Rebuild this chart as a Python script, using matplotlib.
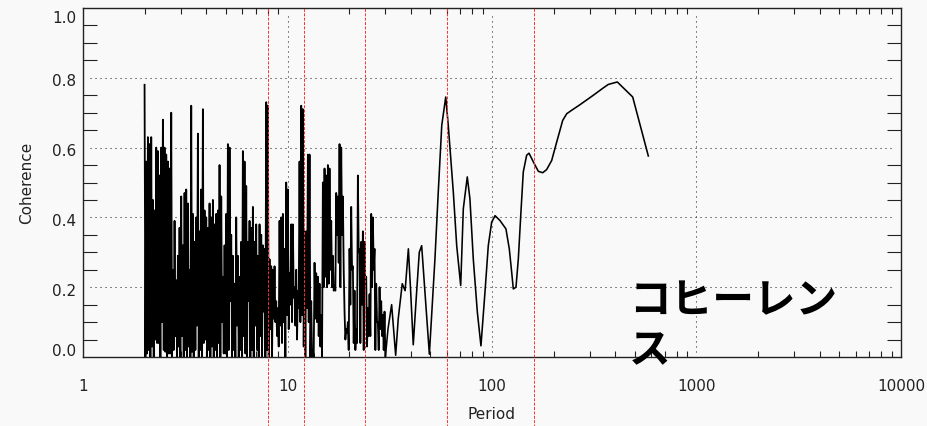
import numpy as np
import matplotlib
matplotlib.use("Agg")
import matplotlib.pyplot as plt
from matplotlib.ticker import FixedLocator, NullFormatter
from matplotlib.transforms import ScaledTranslation

plt.rcParams["path.simplify"] = False

# ---------------- data ----------------
# dense (noisy) part of the coherence spectrum, periods 2 .. 30
dense_values = [
    0.78, 0.00, 0.56, 0.01, 0.63, 0.02, 0.61, 0.00, 0.63, 0.03,
    0.45, 0.00, 0.42, 0.05, 0.60, 0.04, 0.59, 0.04, 0.52, 0.00,
    0.60, 0.10, 0.68, 0.02, 0.60, 0.015, 0.58, 0.00, 0.56, 0.01,
    0.54, 0.01, 0.70, 0.00, 0.25, 0.02, 0.39, 0.06, 0.22, 0.00,
    0.29, 0.03, 0.37, 0.00, 0.46, 0.06, 0.32, 0.00, 0.47, 0.02,
    0.48, 0.00, 0.44, 0.03, 0.25, 0.00, 0.72, 0.015, 0.41, 0.00,
    0.33, 0.02, 0.40, 0.09, 0.64, 0.00, 0.36, 0.02, 0.48, 0.00,
    0.71, 0.04, 0.42, 0.05, 0.40, 0.00, 0.37, 0.02,
    # periods ~4 .. 8.5
    0.44, 0.00, 0.40, 0.03, 0.45, 0.00, 0.38, 0.02, 0.41, 0.00,
    0.42, 0.04, 0.55, 0.00, 0.46, 0.10, 0.23, 0.01, 0.32, 0.01,
    0.41, 0.00, 0.61, 0.02, 0.60, 0.16, 0.35, 0.00, 0.29, 0.02,
    0.21, 0.00, 0.40, 0.09, 0.29, 0.00, 0.23, 0.02, 0.33, 0.00,
    0.59, 0.06, 0.56, 0.01, 0.49, 0.00, 0.33, 0.16, 0.39, 0.00,
    0.37, 0.02, 0.43, 0.00, 0.33, 0.09, 0.38, 0.02, 0.29, 0.00,
    0.38, 0.06, 0.35, 0.00, 0.32, 0.13, 0.31, 0.00, 0.73, 0.02,
    0.72, 0.00, 0.28, 0.08, 0.26, 0.00, 0.25, 0.11,
    # periods ~8.5 .. 18.5
    0.26, 0.10, 0.16, 0.06, 0.14, 0.03, 0.39, 0.09, 0.40, 0.04,
    0.41, 0.10, 0.31, 0.00, 0.50, 0.12, 0.48, 0.08, 0.24, 0.15,
    0.38, 0.10, 0.38, 0.17, 0.20, 0.09, 0.25, 0.05, 0.19, 0.14,
    0.56, 0.10, 0.72, 0.12, 0.71, 0.03, 0.36, 0.00, 0.36, 0.14,
    0.58, 0.10, 0.58, 0.00, 0.16, 0.00, 0.02, 0.00, 0.27, 0.11,
    0.24, 0.10, 0.23, 0.06, 0.21, 0.03, 0.12, 0.00, 0.50, 0.20,
    0.54, 0.23, 0.52, 0.20, 0.55, 0.21, 0.54, 0.25, 0.39, 0.20,
    0.29, 0.19, 0.20, 0.19, 0.47, 0.35, 0.46, 0.27, 0.61, 0.20,
    # periods ~18.5 .. 30
    0.60, 0.35, 0.46, 0.25, 0.13, 0.05, 0.08, 0.07, 0.10, 0.02,
    0.31, 0.15, 0.43, 0.25, 0.26, 0.04, 0.19, 0.02, 0.08, 0.04,
    0.52, 0.30, 0.31, 0.04, 0.33, 0.15, 0.36, 0.02, 0.33, 0.20,
    0.23, 0.03, 0.14, 0.06, 0.18, 0.06, 0.41, 0.20, 0.40, 0.25,
    0.31, 0.02, 0.21, 0.10, 0.10, 0.02, 0.20, 0.08, 0.16, 0.06,
    0.12, 0.02, 0.13, 0.00,
]
dense_period_min = 2.0
dense_period_max = 30.1

# smooth part, periods 31 .. 581
smooth_periods = [31.0, 32.3, 33.8, 34.8, 36.4, 37.6, 39.0, 40.0, 41.2, 42.8,
                  44.1, 45.3, 47.0, 49.4, 52.6, 54.6, 56.8, 59.4, 61.1, 64.7,
                  67.2, 70.3, 72.4, 75.7, 78.0, 81.0, 84.8, 88.3, 92.4, 95.9,
                  99.6, 103.5, 109.4, 117.0, 121.5, 124.8, 127.1, 131.0, 134.5, 138.2,
                  142.2, 147.7, 151.7, 159.3, 168.5, 177.0, 185.0, 195.8, 207.2, 221.7,
                  231.9, 245.3, 269.4, 312.9, 350.1, 370.5, 410.0, 487.5, 581.3]
smooth_values = [0.08, 0.15, 0.005, 0.11, 0.21, 0.19, 0.31, 0.19, 0.035, 0.186,
                 0.30, 0.319, 0.186, 0.008, 0.281, 0.472, 0.664, 0.745, 0.664, 0.472,
                 0.319, 0.205, 0.425, 0.516, 0.453, 0.281, 0.128, 0.032, 0.186, 0.319,
                 0.386, 0.405, 0.391, 0.367, 0.310, 0.243, 0.195, 0.200, 0.281, 0.405,
                 0.530, 0.578, 0.584, 0.559, 0.532, 0.528, 0.537, 0.563, 0.616, 0.678,
                 0.697, 0.707, 0.723, 0.750, 0.771, 0.781, 0.788, 0.745, 0.576]

marker_periods = [8.0, 12.0, 24.0, 60.0, 161.0]

x_ticks = [1, 10, 100, 1000, 10000]
x_ticklabels = ["1", "10", "100", "1000", "10000"]
y_ticks = [0.0, 0.2, 0.4, 0.6, 0.8, 1.0]
y_ticklabels = ["0.0", "0.2", "0.4", "0.6", "0.8", "1.0"]
annotation = "コヒーレン\nス"

# ---------------- figure ----------------
W, H = 928, 427
fig = plt.figure(figsize=(W / 100, H / 100), dpi=100, facecolor="#f9f9f9")
L, R, T, B = 83, 901, 9, 358
ax = fig.add_axes([L / W, 1 - B / H, (R - L) / W, (B - T) / H])
ax.set_facecolor("#f9f9f9")

ax.set_xscale("log")
ax.set_xlim(1, 10000)
ax.set_ylim(0, 1.0)

dense_periods = np.geomspace(dense_period_min, dense_period_max, len(dense_values))
ax.plot(dense_periods, dense_values, color="black", lw=1.3, zorder=2,
        solid_joinstyle="round")
ax.plot(np.concatenate([dense_periods[-1:], smooth_periods]),
        np.concatenate([dense_values[-1:], smooth_values]),
        color="black", lw=1.15, zorder=2)

# dotted grid (inset from the frame)
dot = (0, (1, 3.8))
xt = ax.get_yaxis_transform()
for y in y_ticks[1:-1]:
    ax.plot([7 / 818, 1 - 6 / 818], [y, y], transform=xt, color="#222222",
            lw=0.75, linestyle=dot, zorder=1)
yt = ax.get_xaxis_transform()
for x in x_ticks[1:-1]:
    ax.plot([x, x], [5 / 349, 1 - 6 / 349], transform=yt, color="#222222",
            lw=0.75, linestyle=dot, zorder=1)

# red dashed period markers, running below the axes
for p in marker_periods:
    ax.axvline(p, ymin=-0.25, ymax=1.0, color="#ff3030", lw=0.7,
               linestyle=(0, (3, 1.5)), clip_on=False, zorder=3)

# ticks
ax.xaxis.set_major_locator(FixedLocator(x_ticks))
ax.set_xticklabels(x_ticklabels)
minor_x = [m * 10 ** e for e in range(4) for m in range(2, 10)]
ax.xaxis.set_minor_locator(FixedLocator(minor_x))
ax.xaxis.set_minor_formatter(NullFormatter())
ax.yaxis.set_major_locator(FixedLocator(y_ticks))
ax.set_yticklabels(y_ticklabels)
minor_y = [k * 0.05 for k in range(1, 20) if k % 4 != 0]
ax.yaxis.set_minor_locator(FixedLocator(minor_y))

tick_color = "#222222"
ax.tick_params(axis="x", which="major", length=0, pad=15, labelsize=11,
               labelcolor="#222222")
ax.tick_params(axis="y", which="major", length=0, pad=5, labelsize=11,
               labelcolor="#222222")
ax.tick_params(axis="x", which="minor", direction="in", length=4, width=0.8,
               color=tick_color, top=True, bottom=True)
ax.tick_params(axis="y", which="minor", direction="in", length=9.8, width=0.8,
               color=tick_color, left=True, right=True)
# small vertical offsets of the y labels (pixels, positive = down)
label_shift = {"0.0": -6, "0.2": 3, "0.4": 3, "0.6": 3, "0.8": 3, "1.0": 10}
for lab in ax.get_yticklabels():
    dy = label_shift.get(lab.get_text(), 0)
    lab.set_va("center")
    lab.set_transform(lab.get_transform() +
                      ScaledTranslation(0, -dy / 100, fig.dpi_scale_trans))

for s in ax.spines.values():
    s.set_color("#222222")
    s.set_linewidth(1.0)

ax.set_xlabel("Period", fontsize=11, color="#222222", va="center")
ax.xaxis.set_label_coords(0.5, -0.162)
ax.set_ylabel("Coherence", fontsize=11, color="#222222", va="center")
ax.yaxis.set_label_coords(-0.0685, 0.502)

fig.text(629 / W, 1 - 280 / H, annotation, fontsize=30, fontweight="bold",
         family=["Noto Sans CJK JP", "DejaVu Sans"], va="top", ha="left",
         linespacing=1.25, color="black", zorder=5)

fig.savefig("out.png", dpi=100, facecolor=fig.get_facecolor())
